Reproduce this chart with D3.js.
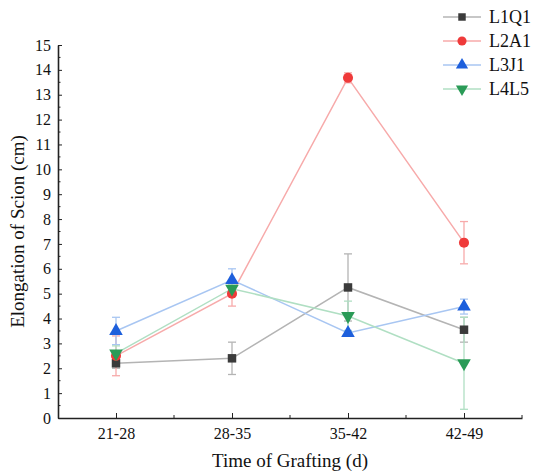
<!DOCTYPE html>
<html>
<head>
<meta charset="utf-8">
<script src="https://cdn.jsdelivr.net/npm/d3@7"></script>
<style>
  body { margin: 0; background: #fff; }
</style>
</head>
<body>
<div id="chart"></div>
<script>
// ============= Data =============
const periods = ["21-28", "28-35", "35-42", "42-49"];
const seriesNames = ["L1Q1", "L2A1", "L3J1", "L4L5"];

const l1q1 = [2.2, 2.4, 5.25, 3.55];
const l1q1Err = [0.2, 0.65, 1.35, 0.5];
const l2a1 = [2.5, 5.0, 13.68, 7.05];
const l2a1Err = [0.8, 0.5, 0.2, 0.85];
const l3j1 = [3.5, 5.55, 3.42, 4.48];
const l3j1Err = [0.55, 0.45, 0.1, 0.3];
const l4l5 = [2.6, 5.2, 4.1, 2.2];
const l4l5Err = [0.3, 0.15, 0.6, 1.85];

const yTicks = d3.range(0, 16);

const series = [
  { name: seriesNames[0], values: l1q1, err: l1q1Err, marker: d3.symbolSquare, dark: "#3b3b3b", light: "#b4b4b4" },
  { name: seriesNames[1], values: l2a1, err: l2a1Err, marker: d3.symbolCircle, dark: "#ef3a3a", light: "#f7aaaa" },
  { name: seriesNames[2], values: l3j1, err: l3j1Err, marker: d3.symbolTriangle, dark: "#1d5fdc", light: "#a8c6f2" },
  { name: seriesNames[3], values: l4l5, err: l4l5Err, marker: "down", dark: "#2a9b57", light: "#b0dfc3" }
];

const FONT = '"Liberation Serif"';
const width = 537;
const height = 473;
const margin = { top: 45, right: 15, bottom: 55, left: 58 };

const svg = d3.select("#chart").append("svg")
  .attr("width", width)
  .attr("height", height);

// x: categories at 1..4, axis spans 0.5..4.5
const x = d3.scaleLinear()
  .domain([0.5, 4.5])
  .range([margin.left, width - margin.right]);

const y = d3.scaleLinear()
  .domain([0, 15])
  .range([height - margin.bottom, margin.top]);

// ============= Axes =============
const yAxis = svg.append("g")
  .attr("transform", `translate(${margin.left},0)`)
  .call(d3.axisLeft(y).tickValues(yTicks).tickSize(-4).tickPadding(7).tickSizeOuter(0));

// minor y ticks
svg.append("g")
  .selectAll("line")
  .data(yTicks.slice(0, -1).map(d => d + 0.5))
  .join("line")
  .attr("x1", margin.left).attr("x2", margin.left + 2.5)
  .attr("y1", d => y(d)).attr("y2", d => y(d))
  .attr("stroke", "#222");

const xAxis = svg.append("g")
  .attr("transform", `translate(0,${height - margin.bottom})`)
  .call(d3.axisBottom(x).tickValues([1, 2, 3, 4]).tickFormat(d => periods[d - 1])
    .tickSize(-5).tickPadding(10).tickSizeOuter(0));

[xAxis, yAxis].forEach(a => {
  a.selectAll("text")
    .style("font-family", FONT)
    .style("font-size", "16px")
    .attr("fill", "#111");
});

// minor x ticks
svg.append("g")
  .selectAll("line")
  .data([1.5, 2.5, 3.5, 4.5])
  .join("line")
  .attr("x1", d => x(d)).attr("x2", d => x(d))
  .attr("y1", y(0)).attr("y2", y(0) - 3)
  .attr("stroke", "#222");

svg.selectAll(".domain").attr("stroke", "#222").attr("stroke-width", 1.6);
svg.selectAll(".tick line").attr("stroke", "#222");

svg.append("text")
  .attr("x", (margin.left + width - margin.right) / 2)
  .attr("y", height - 6)
  .attr("text-anchor", "middle")
  .style("font-family", FONT)
  .style("font-size", "19px")
  .attr("fill", "#111")
  .text("Time of Grafting (d)");

svg.append("text")
  .attr("transform", `translate(24,${y(7.5)}) rotate(-90)`)
  .attr("text-anchor", "middle")
  .style("font-family", FONT)
  .style("font-size", "19px")
  .attr("fill", "#111")
  .text("Elongation of Scion (cm)");

// ============= Series =============
function symbolPath(marker, size) {
  if (marker === "down") {
    return d3.symbol(d3.symbolTriangle, size)();
  }
  return d3.symbol(marker, size)();
}

const line = d3.line()
  .x((d, i) => x(i + 1))
  .y(d => y(d));

series.forEach(s => {
  const g = svg.append("g");

  // error bars
  s.values.forEach((v, i) => {
    const cx = x(i + 1);
    const e = s.err[i];
    g.append("line")
      .attr("x1", cx).attr("x2", cx)
      .attr("y1", y(v - e)).attr("y2", y(v + e))
      .attr("stroke", s.light).attr("stroke-width", 1.3);
    [v - e, v + e].forEach(c => {
      g.append("line")
        .attr("x1", cx - 4).attr("x2", cx + 4)
        .attr("y1", y(c)).attr("y2", y(c))
        .attr("stroke", s.light).attr("stroke-width", 1.3);
    });
  });

  g.append("path")
    .datum(s.values)
    .attr("d", line)
    .attr("fill", "none")
    .attr("stroke", s.light)
    .attr("stroke-width", 1.5);
});

series.forEach(s => {
  svg.append("g").selectAll("path")
    .data(s.values)
    .join("path")
    .attr("d", symbolPath(s.marker, s.marker === d3.symbolSquare ? 72 : 80))
    .attr("transform", (d, i) => `translate(${x(i + 1)},${y(d)})` + (s.marker === "down" ? " rotate(180)" : ""))
    .attr("fill", s.dark);
});

// ============= Legend =============
const legend = svg.append("g").attr("transform", "translate(443,17)");
series.forEach((s, i) => {
  const row = legend.append("g").attr("transform", `translate(0,${i * 24})`);
  row.append("line")
    .attr("x1", 0).attr("x2", 38)
    .attr("stroke", s.light).attr("stroke-width", 1.5);
  row.append("path")
    .attr("d", symbolPath(s.marker, s.marker === d3.symbolSquare ? 56 : 65))
    .attr("transform", `translate(19,0)` + (s.marker === "down" ? " rotate(180)" : ""))
    .attr("fill", s.dark);
  row.append("text")
    .attr("x", 46)
    .attr("y", 5.5)
    .style("font-family", FONT)
    .style("font-size", "18px")
    .attr("fill", "#111")
    .text(s.name);
});
</script>
</body>
</html>
